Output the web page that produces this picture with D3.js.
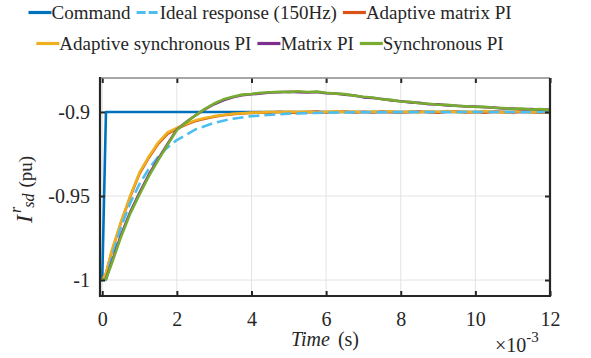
<!DOCTYPE html>
<html lang="en">
<head>
	<meta charset="UTF-8">
	<title>Current step response</title>
	<script src="https://d3js.org/d3.v7.min.js"></script>
	<style>
		body{ margin:0; background:#fff; }
		text{ font-family:"Liberation Serif","Times New Roman",serif; fill:#262626; }
		.line{ fill:none; stroke-width:2.6px; stroke-linejoin:round; }
		.grid line{ stroke:#e3e3e3; stroke-width:1px; }
	</style>
</head>
<body>
	<script type="text/javascript">
		var serifFont = '"Liberation Serif","Times New Roman",serif';

		// time in ms (axis shown with x10^-3 multiplier)
		var time = [0, 0.1, 0.25, 0.5, 0.75, 1, 1.25, 1.5, 1.75, 2, 2.25, 2.5, 2.75, 3, 3.25, 3.5, 3.75, 4, 4.25, 4.5,
			4.75, 5, 5.25, 5.5, 5.75, 6, 6.25, 6.5, 6.75, 7, 7.25, 7.5, 7.75, 8, 8.25, 8.5, 8.75, 9, 9.25, 9.5,
			9.75, 10, 10.25, 10.5, 10.75, 11, 11.25, 11.5, 11.75, 12];

		var cmdTime = [0, 0.1, 12];
		var command = [-1, -0.9, -0.9];

		var idealTime = [0, 0.1, 0.25, 0.5, 0.75, 1, 1.25, 1.5, 1.75, 2, 2.5, 3, 3.5, 4, 5, 6, 7, 8, 9, 10, 11, 12];
		var ideal = [-1, -1, -0.9868, -0.9686, -0.9542, -0.9428, -0.9338, -0.9267, -0.9211, -0.9167, -0.9104, -0.9065,
			-0.9040, -0.9025, -0.9010, -0.9004, -0.9002, -0.9001, -0.9000, -0.9000, -0.9000, -0.9000];

		var adaptiveMatrix = [-1.0000, -0.9962, -0.9834, -0.9660, -0.9505, -0.9366, -0.9272, -0.9190, -0.9130, -0.9100,
			-0.9075, -0.9054, -0.9040, -0.9028, -0.9020, -0.9013, -0.9009, -0.9006, -0.9002, -0.9004,
			-0.8999, -0.9003, -0.9006, -0.9001, -0.8998, -0.9003, -0.9000, -0.8997, -0.9004, -0.8999,
			-0.9003, -0.8998, -0.9002, -0.9005, -0.9000, -0.8997, -0.9002, -0.9004, -0.8999, -0.8997,
			-0.9003, -0.9000, -0.9004, -0.8998, -0.9001, -0.9003, -0.8999, -0.9001, -0.9004, -0.9003];

		var adaptiveSync = [-1.0000, -0.9960, -0.9830, -0.9655, -0.9500, -0.9360, -0.9265, -0.9182, -0.9122, -0.9095,
			-0.9070, -0.9050, -0.9036, -0.9025, -0.9018, -0.9011, -0.9008, -0.9004, -0.9003, -0.8999,
			-0.9002, -0.8997, -0.9001, -0.8998, -0.9003, -0.8999, -0.8996, -0.9001, -0.8998, -0.9002,
			-0.8997, -0.9000, -0.8996, -0.9001, -0.8998, -0.9003, -0.8996, -0.8999, -0.8995, -0.9001,
			-0.8998, -0.9002, -0.8995, -0.8999, -0.9003, -0.8998, -0.8996, -0.9002, -0.8999, -0.9001];

		var matrixPI = [-1.0000, -0.9993, -0.9895, -0.9735, -0.9595, -0.9480, -0.9372, -0.9280, -0.9190, -0.9104,
			-0.9060, -0.9020, -0.8985, -0.8954, -0.8930, -0.8912, -0.8901, -0.8895, -0.8890, -0.8884,
			-0.8883, -0.8880, -0.8882, -0.8884, -0.8881, -0.8889, -0.8890, -0.8897, -0.8902, -0.8913,
			-0.8917, -0.8923, -0.8931, -0.8936, -0.8943, -0.8946, -0.8954, -0.8955, -0.8961, -0.8963,
			-0.8968, -0.8968, -0.8972, -0.8974, -0.8979, -0.8980, -0.8984, -0.8983, -0.8987, -0.8986];

		var syncPI = [-1.0000, -0.9995, -0.9905, -0.9745, -0.9605, -0.9490, -0.9382, -0.9287, -0.9196, -0.9108,
			-0.9062, -0.9020, -0.8982, -0.8950, -0.8925, -0.8909, -0.8897, -0.8893, -0.8886, -0.8883,
			-0.8880, -0.8882, -0.8877, -0.8881, -0.8879, -0.8886, -0.8891, -0.8894, -0.8903, -0.8910,
			-0.8914, -0.8925, -0.8928, -0.8938, -0.8940, -0.8948, -0.8951, -0.8957, -0.8958, -0.8964,
			-0.8966, -0.8970, -0.8969, -0.8975, -0.8977, -0.8981, -0.8980, -0.8985, -0.8983, -0.8989];

		var xTicks = [0, 2, 4, 6, 8, 10, 12];
		var yTicks = [-1, -0.95, -0.9];
		var yTickLabels = ["-1", "-0.95", "-0.9"];

		var series = [
			{name: "Command", t: cmdTime, v: command, color: "#0072BD"},
			{name: "Ideal response (150Hz)", t: idealTime, v: ideal, color: "#4DBEEE", dash: "11,5"},
			{name: "Adaptive matrix PI", t: time, v: adaptiveMatrix, color: "#D95319"},
			{name: "Adaptive synchronous PI", t: time, v: adaptiveSync, color: "#EDB120"},
			{name: "Matrix PI", t: time, v: matrixPI, color: "#7E2F8E"},
			{name: "Synchronous PI", t: time, v: syncPI, color: "#77AC30"}
		];
		// drawing order (ideal over the adaptive curves, under the fixed PI ones)
		var drawOrder = [0, 2, 3, 1, 4, 5];

		var W = 591, H = 358;
		var L = 100, R = 550, T = 78, B = 296;

		var svg = d3.select("body").append("svg")
			.attr("width", W).attr("height", H);

		var x = d3.scaleLinear().domain([-0.06, 12]).range([L, R]);
		var y = d3.scaleLinear().domain([-1.0095, -0.8798]).range([B, T]);

		// grid
		var grid = svg.append("g").attr("class", "grid");
		grid.selectAll(".gx").data(xTicks).enter().append("line")
			.attr("x1", d => x(d)).attr("x2", d => x(d)).attr("y1", T).attr("y2", B);
		grid.selectAll(".gy").data(yTicks).enter().append("line")
			.attr("x1", L).attr("x2", R).attr("y1", d => y(d)).attr("y2", d => y(d));

		svg.append("clipPath").attr("id", "clip")
			.append("rect").attr("x", L).attr("y", T).attr("width", R - L).attr("height", B - T);

		var line = d3.line();
		var plot = svg.append("g").attr("clip-path", "url(#clip)");
		drawOrder.forEach(function(i){
			var s = series[i];
			var pts = s.t.map((t, k) => [x(t), y(s.v[k])]);
			plot.append("path")
				.attr("class", "line")
				.attr("d", line(pts))
				.attr("stroke", s.color)
				.attr("stroke-dasharray", s.dash || null);
		});

		// axes (inward ticks, box)
		var xAxis = d3.axisBottom(x).tickValues(xTicks).tickSizeInner(-5).tickSizeOuter(0).tickPadding(16);
		var gx = svg.append("g").attr("transform", "translate(0," + B + ")").call(xAxis);
		gx.attr("font-family", null).attr("font-size", null);
		gx.select(".domain").remove();
		gx.selectAll("text").style("font-size", "20px").attr("fill", "#262626").style("font-family", serifFont);
		gx.selectAll("line").attr("stroke", "#262626").attr("stroke-width", 2);

		var gxTop = svg.append("g").attr("transform", "translate(0," + T + ")")
			.call(d3.axisTop(x).tickValues(xTicks).tickSizeInner(-5).tickSizeOuter(0).tickFormat(""));
		gxTop.select(".domain").remove();
		gxTop.selectAll("line").attr("stroke", "#262626").attr("stroke-width", 2);

		var yAxis = d3.axisLeft(y).tickValues(yTicks).tickSizeInner(-5).tickSizeOuter(0).tickPadding(10)
			.tickFormat((d, i) => yTickLabels[i]);
		var gy = svg.append("g").attr("transform", "translate(" + L + ",0)").call(yAxis);
		gy.attr("font-family", null).attr("font-size", null);
		gy.select(".domain").remove();
		gy.selectAll("text").style("font-size", "20px").attr("fill", "#262626").style("font-family", serifFont);
		gy.selectAll("line").attr("stroke", "#262626").attr("stroke-width", 2);

		var gyR = svg.append("g").attr("transform", "translate(" + R + ",0)")
			.call(d3.axisRight(y).tickValues(yTicks).tickSizeInner(-5).tickSizeOuter(0).tickFormat(""));
		gyR.select(".domain").remove();
		gyR.selectAll("line").attr("stroke", "#262626").attr("stroke-width", 2);

		// box
		svg.append("line").attr("x1", L).attr("x2", R).attr("y1", T).attr("y2", T)
			.attr("stroke", "#8a8a8a").attr("stroke-width", 1.5);
		svg.append("line").attr("x1", R).attr("x2", R).attr("y1", T).attr("y2", B)
			.attr("stroke", "#262626").attr("stroke-width", 2.2);
		svg.append("line").attr("x1", L).attr("x2", L).attr("y1", T - 1).attr("y2", B + 1)
			.attr("stroke", "#262626").attr("stroke-width", 2.2);
		svg.append("line").attr("x1", L - 1).attr("x2", R + 1).attr("y1", B).attr("y2", B)
			.attr("stroke", "#262626").attr("stroke-width", 2.2);

		// x label
		var xl = svg.append("text").attr("x", 325).attr("y", 346).attr("text-anchor", "middle")
			.style("font-size", "20px");
		xl.append("tspan").style("font-style", "italic").text("Time");
		xl.append("tspan").attr("dx", 8).text("(s)");

		// exponent
		var ex = svg.append("text").attr("x", 495).attr("y", 352).style("font-size", "20px");
		ex.append("tspan").text("\u00d710");
		ex.append("tspan").attr("dy", -10).style("font-size", "15px").text("-3");

		// y label
		var yl = svg.append("text")
			.attr("transform", "translate(32,223) rotate(-90)")
			.attr("text-anchor", "start").style("font-size", "19px");
		yl.append("tspan").style("font-style", "italic").style("font-size", "24px").text("I");
		yl.append("tspan").attr("dy", -11).attr("dx", 2).style("font-style", "italic").style("font-size", "16px").text("r");
		yl.append("tspan").attr("dy", 13).attr("dx", -1).style("font-style", "italic").style("font-size", "16px").text("sd");
		yl.append("tspan").attr("dy", -2).attr("dx", 6).text("(pu)");

		// legend
		var rows = [[0, 1, 2], [3, 4, 5]];
		var rowY = [12.5, 43.5];
		var sampleW = 23, gap = 6, centerX = 270;
		rows.forEach(function(r, ri){
			var g = svg.append("g");
			var cx = 0;
			r.forEach(function(i){
				var s = series[i];
				g.append("line").attr("x1", cx).attr("x2", cx + sampleW)
					.attr("y1", rowY[ri]).attr("y2", rowY[ri])
					.attr("stroke", s.color).attr("stroke-width", 3.2)
					.attr("stroke-dasharray", s.dash ? "9,3" : null);
				var tx = g.append("text").attr("x", cx + sampleW).attr("y", rowY[ri] + 6.3)
					.style("font-size", "19px").text(s.name);
				cx += sampleW + tx.node().getComputedTextLength() + gap;
			});
			var total = cx - gap;
			g.attr("transform", "translate(" + (centerX - total / 2) + ",0)");
		});
	</script>
</body>
</html>
